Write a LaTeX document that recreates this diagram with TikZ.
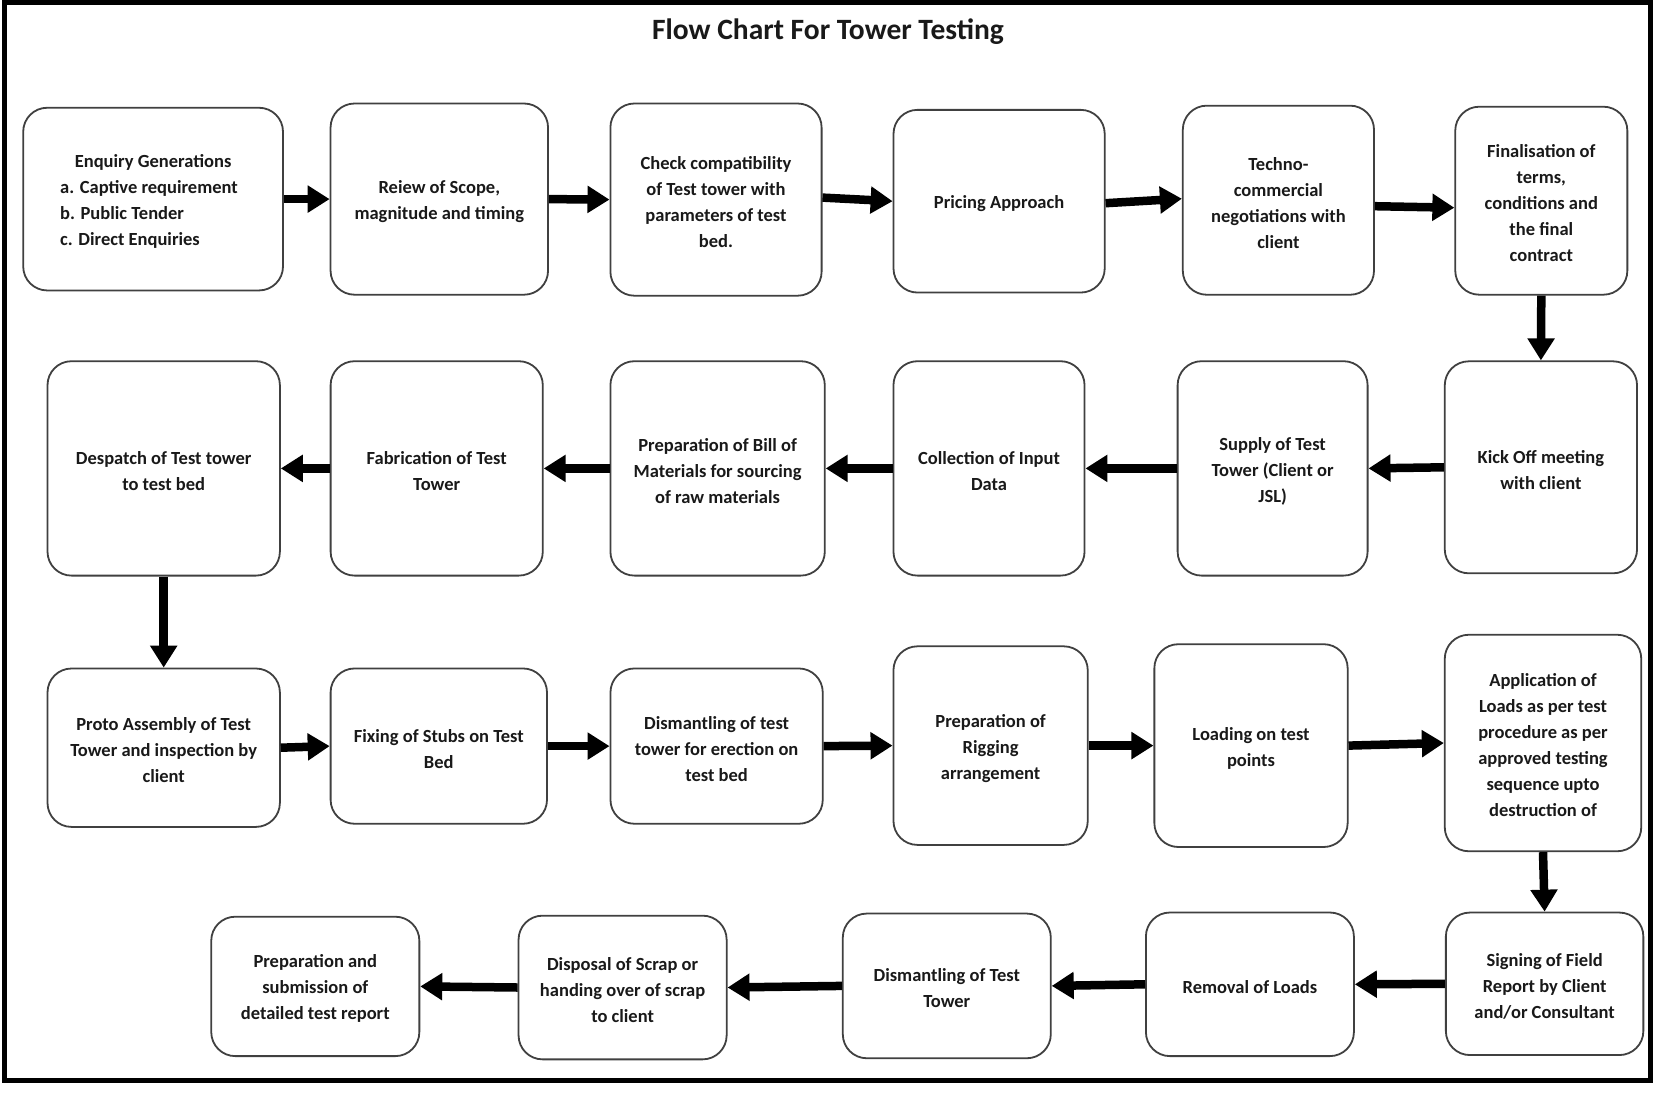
\documentclass[tikz,border=0pt]{standalone}
\usepackage{fontspec}
\setmainfont{Carlito}
\usetikzlibrary{arrows.meta}
% taller first line so each label sits a little lower in its box
\newcommand\topline{\rule{0pt}{18pt}}
\begin{document}
\begin{tikzpicture}[x=1pt,y=-1pt,
  stage/.style={draw=black!75, line width=1.8pt, rounded corners=24pt, fill=white,
    align=center, font=\fontsize{18.5}{26}\selectfont\bfseries, text=black!90, inner sep=4pt},
  sz/.style n args={2}{minimum width=#1pt, minimum height=#2pt},
  flow/.style={-{Triangle[length=22pt,width=26pt]}, line width=8.5pt, black},
  ]
% page and frame
\useasboundingbox (0,0) rectangle (1656,1092);
\fill[white] (0,0) rectangle (1656,1092);
\draw[line width=5pt] (4,2.5) rectangle (1650.5,1080.5);

\node[font=\fontsize{29.5}{34}\selectfont\bfseries, text=black!90, anchor=base] (title) at (828,39) {Flow Chart For Tower Testing};

% row 1
\node[stage, sz={259.8}{182.7}, inner xsep=0pt, align=left] (b1) at (153.1,199.1)
  {\topline\makebox[259.8pt][c]{Enquiry Generations}\\\hspace*{37pt}a. Captive requirement\\\hspace*{37pt}b. Public Tender\\\hspace*{37pt}c. Direct Enquiries};
\node[stage, sz={217.5}{191.2}] (b2) at (439.3,199.1) {\topline Reiew of Scope,\\magnitude and timing};
\node[stage, sz={211.2}{192.2}] (b3) at (716,199.6) {\topline Check compatibility\\of Test tower with\\parameters of test\\bed.};
\node[stage, sz={211.2}{182.7}] (b4) at (999.1,201.2) {\topline Pricing Approach};
\node[stage, sz={191.2}{189.1}] (b5) at (1278.4,200.2) {\topline Techno-\\commercial\\negotiations with\\client};
\node[stage, sz={172.1}{188}] (b6) at (1541.3,200.7) {\topline Finalisation of\\terms,\\conditions and\\the final\\contract};

% row 2
\node[stage, sz={192.3}{212}] (c6) at (1540.9,467.3) {\topline Kick Off meeting\\with client};
\node[stage, sz={190}{214.4}] (c5) at (1272.6,468.4) {\topline Supply of Test\\Tower (Client or\\JSL)};
\node[stage, sz={191.1}{214.4}] (c4) at (989,468.4) {\topline Collection of Input\\Data};
\node[stage, sz={214.4}{214.4}] (c3) at (717.6,468.4) {\topline Preparation of Bill of\\Materials for sourcing\\of raw materials};
\node[stage, sz={212.2}{214.4}] (c2) at (436.7,468.4) {\topline Fabrication of Test\\Tower};
\node[stage, sz={232.4}{214.4}] (c1) at (163.7,468.4) {\topline Despatch of Test tower\\to test bed};

% row 3
\node[stage, sz={232.4}{158.4}] (d1) at (163.7,747.7) {\topline Proto Assembly of Test\\Tower and inspection by\\client};
\node[stage, sz={216.4}{155.3}] (d2) at (438.8,746.1) {\topline Fixing of Stubs on Test\\Bed};
\node[stage, sz={212.3}{155.3}] (d3) at (716.6,746.1) {\topline Dismantling of test\\tower for erection on\\test bed};
\node[stage, sz={194.3}{198.6}] (d4) at (990.6,745.6) {\topline Preparation of\\Rigging\\arrangement};
\node[stage, sz={193.3}{202.8}] (d5) at (1251,745.6) {\topline Loading on test\\points};
\node[stage, sz={196.5}{216.5}] (d6) at (1543,743) {\topline Application of\\Loads as per test\\procedure as per\\approved testing\\sequence upto\\destruction of};

% row 4
\node[stage, sz={197.5}{142.5}] (e5) at (1544.6,983.8) {\topline Signing of Field\\Report by Client\\and/or Consultant};
\node[stage, sz={208}{143.6}] (e4) at (1249.9,984.3) {\topline Removal of Loads};
\node[stage, sz={208}{144.7}] (e3) at (946.8,985.9) {\topline Dismantling of Test\\Tower};
\node[stage, sz={208.1}{143.7}] (e2) at (622.6,987.5) {\topline Disposal of Scrap or\\handing over of scrap\\to client};
\node[stage, sz={208.1}{139.4}] (e1) at (315.3,986.4) {\topline Preparation and\\submission of\\detailed test report};

% connectors
\draw[flow] (b1.east) -- (b2.west);
\draw[flow] (b2.east) -- (b3.west);
\draw[flow] ([yshift=2pt]b3.east) -- (b4.west);
\draw[flow] ([yshift=-2pt]b4.east) -- ([yshift=1.5pt]b5.west);
\draw[flow] ([yshift=-6pt]b5.east) -- ([yshift=-7pt]b6.west);
\draw[flow] (b6.south) -- (c6.north);
\draw[flow] (c6.west) -- (c5.east);
\draw[flow] (c5.west) -- (c4.east);
\draw[flow] (c4.west) -- (c3.east);
\draw[flow] (c3.west) -- (c2.east);
\draw[flow] (c2.west) -- (c1.east);
\draw[flow] (c1.south) -- (d1.north);
\draw[flow] (d1.east) -- (d2.west);
\draw[flow] (d2.east) -- (d3.west);
\draw[flow] (d3.east) -- (d4.west);
\draw[flow] (d4.east) -- (d5.west);
\draw[flow] (d5.east) -- (d6.west);
\draw[flow] (d6.south) -- (e5.north);
\draw[flow] (e5.west) -- (e4.east);
\draw[flow] (e4.west) -- (e3.east);
\draw[flow] (e3.west) -- (e2.east);
\draw[flow] (e2.west) -- (e1.east);
\end{tikzpicture}
\end{document}
